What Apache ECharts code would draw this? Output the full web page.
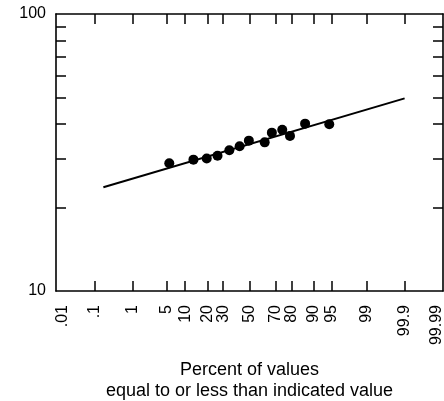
<!DOCTYPE html>
<html>
<head>
<meta charset="utf-8">
<script src="https://cdn.jsdelivr.net/npm/echarts@6/dist/echarts.min.js"></script>
<style>
html,body{margin:0;padding:0;background:#fff;}
#chart{width:444px;height:401px;}
</style>
</head>
<body>
<div id="chart"></div>
<script>
// ---- data ----
const tickPercents = [0.01, 0.1, 1, 5, 10, 20, 30, 50, 70, 80, 90, 95, 99, 99.9, 99.99];
const tickLabels = ['.01', '.1', '1', '5', '10', '20', '30', '50', '70', '80', '90', '95', '99', '99.9', '99.99'];
const tickMarkPercents = [0.1, 1, 5, 10, 20, 30, 50, 70, 80, 90, 95, 99, 99.9];
const pointPercents = [5.5, 13.2, 19.7, 26.2, 34.4, 42.2, 49.5, 61.9, 67.2, 74.3, 79.0, 86.6, 94.4];
const pointValues = [28.9, 29.8, 30.1, 30.8, 32.2, 33.3, 34.9, 34.4, 37.3, 38.2, 36.3, 40.2, 40.0];
const linePercents = [0.18, 99.9];
const lineValues = [23.7, 49.6];
const yTickValues = [20, 30, 40, 50, 60, 70, 80, 90];
const yLabelValues = [10, 100];
const xName = 'Percent of values\nequal to or less than indicated value';

// normal probability scale (inverse normal CDF, Acklam)
function probit(pct) {
  const p = pct / 100;
  const a = [-3.969683028665376e+01, 2.209460984245205e+02, -2.759285104469687e+02, 1.383577518672690e+02, -3.066479806614716e+01, 2.506628277459239e+00];
  const b = [-5.447609879822406e+01, 1.615858368580409e+02, -1.556989798598866e+02, 6.680131188771972e+01, -1.328068155288572e+01];
  const c = [-7.784894002430293e-03, -3.223964580411365e-01, -2.400758277161838e+00, -2.549732539343734e+00, 4.374664141464968e+00, 2.938163982698783e+00];
  const d = [7.784695709041462e-03, 3.224671290700398e-01, 2.445134137142996e+00, 3.754408661907416e+00];
  const plow = 0.02425;
  let q, r;
  if (p < plow) {
    q = Math.sqrt(-2 * Math.log(p));
    return (((((c[0]*q+c[1])*q+c[2])*q+c[3])*q+c[4])*q+c[5]) / ((((d[0]*q+d[1])*q+d[2])*q+d[3])*q+1);
  } else if (p <= 1 - plow) {
    q = p - 0.5; r = q * q;
    return (((((a[0]*r+a[1])*r+a[2])*r+a[3])*r+a[4])*r+a[5])*q / (((((b[0]*r+b[1])*r+b[2])*r+b[3])*r+b[4])*r+1);
  } else {
    q = Math.sqrt(-2 * Math.log(1 - p));
    return -(((((c[0]*q+c[1])*q+c[2])*q+c[3])*q+c[4])*q+c[5]) / ((((d[0]*q+d[1])*q+d[2])*q+d[3])*q+1);
  }
}

const tickZ = tickPercents.map(probit);
const tickMarkZ = tickMarkPercents.map(probit);
function labelFor(v) {
  let best = 0, bd = Infinity;
  tickZ.forEach((z, i) => { const dd = Math.abs(z - v); if (dd < bd) { bd = dd; best = i; } });
  return tickLabels[best];
}

const ink = '#000';
const font = 'Liberation Sans, Arial, Helvetica, sans-serif';
const xCommon = {
  type: 'value', min: -3.855, max: 3.855,
  splitLine: { show: false },
  axisLine: { show: true, onZero: false, lineStyle: { color: ink, width: 1.6 } },
  axisTick: { show: true, inside: true, length: 10, customValues: tickMarkZ, lineStyle: { color: ink, width: 1.5 } }
};
const yCommon = {
  type: 'log', logBase: 10, min: 10, max: 100,
  splitLine: { show: false },
  minorTick: { show: false },
  axisLine: { show: true, onZero: false, lineStyle: { color: ink, width: 1.6 } },
  axisTick: { show: true, inside: true, length: 10, customValues: yTickValues, lineStyle: { color: ink, width: 1.5 } }
};

const chart = echarts.init(document.getElementById('chart'));
chart.setOption({
  animation: false,
  backgroundColor: '#fff',
  grid: { left: 56, right: 1, top: 14, bottom: 110, containLabel: false, outerBoundsMode: 'none' },
  xAxis: [
    Object.assign({}, xCommon, {
      position: 'bottom',
      axisLabel: {
        show: true, customValues: tickZ, rotate: 90, margin: 14,
        color: ink, fontSize: 16, fontFamily: font,
        formatter: v => labelFor(v)
      },
      name: xName, nameLocation: 'middle', nameGap: 69,
      nameTextStyle: { color: ink, fontSize: 18, fontFamily: font, lineHeight: 21, align: 'center', verticalAlign: 'top' }
    }),
    Object.assign({}, xCommon, { position: 'top', axisLabel: { show: false } })
  ],
  yAxis: [
    Object.assign({}, yCommon, {
      position: 'left',
      axisLabel: { show: true, customValues: yLabelValues, margin: 10, color: ink, fontSize: 16, fontFamily: font, formatter: v => String(Math.round(v)) }
    }),
    Object.assign({}, yCommon, { position: 'right', axisLabel: { show: false } })
  ],
  series: [
    {
      type: 'line', xAxisIndex: 0, yAxisIndex: 0,
      data: linePercents.map((p, i) => [probit(p), lineValues[i]]),
      showSymbol: false, symbol: 'none',
      lineStyle: { color: ink, width: 2 }
    },
    {
      type: 'scatter', xAxisIndex: 0, yAxisIndex: 0,
      data: pointPercents.map((p, i) => [probit(p), pointValues[i]]),
      symbol: 'circle', symbolSize: 10,
      itemStyle: { color: ink, opacity: 1 }
    }
  ]
});
</script>
</body>
</html>
